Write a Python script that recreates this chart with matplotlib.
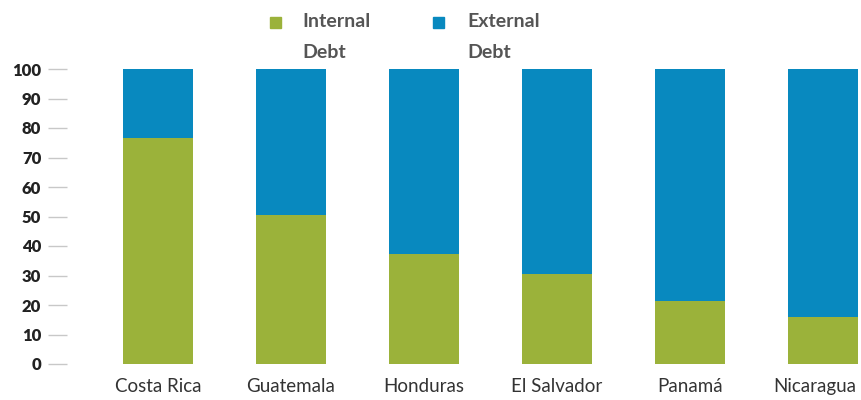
import matplotlib.pyplot as plt
from matplotlib.patches import Rectangle
from matplotlib.transforms import ScaledTranslation

# data (% of total public debt)
countries = ['Costa Rica', 'Guatemala', 'Honduras', 'El Salvador', 'Panamá', 'Nicaragua']
internal = [76.5, 50.5, 37.3, 30.5, 21.5, 15.8]
external = [100 - v for v in internal]

green = '#9bb23a'
blue = '#0889bf'

plt.rcParams['font.family'] = ['Lato', 'DejaVu Sans']

fig = plt.figure(figsize=(8.61, 4.0), dpi=100)
ax = fig.add_axes([67 / 861, 36 / 400, 794 / 861, 295 / 400])

x = range(len(countries))
ax.bar(x, internal, width=0.53, color=green, clip_on=False)
ax.bar(x, external, width=0.53, bottom=internal, color=blue, clip_on=False)

ax.set_xlim(-0.684, 5.286)
ax.set_ylim(0, 100)
ax.set_yticks(range(0, 101, 10))
ax.set_xticks(list(x))
ax.set_xticklabels(countries, fontsize=13.5, color='#333333')
ax.tick_params(axis='x', length=0, pad=10)
ax.tick_params(axis='y', length=14, width=1, color='#c8c8c8', pad=4.5, labelsize=12, labelcolor='#222222')
for lbl in ax.get_yticklabels():
    lbl.set_fontweight('heavy')
# last label sits at the right edge, nudge it in a little
last = ax.get_xticklabels()[-1]
last.set_transform(last.get_transform() + ScaledTranslation(-6 / 72, 0, fig.dpi_scale_trans))
for s in ax.spines.values():
    s.set_visible(False)

# legend drawn by hand: square + two-line label
for sx, tx, name, c in [(270, 302, 'Internal', green), (433, 467, 'External', blue)]:
    fig.patches.append(Rectangle((sx / 861, 1 - 28 / 400), 11 / 861, 11 / 400,
                                 transform=fig.transFigure, color=c))
    fig.text(tx / 861, 1 - 37 / 400, name + '\nDebt', fontsize=14, color='#555555',
             fontweight='bold', va='center', ha='left', linespacing=1.95)

fig.savefig('out.png', dpi=100)
